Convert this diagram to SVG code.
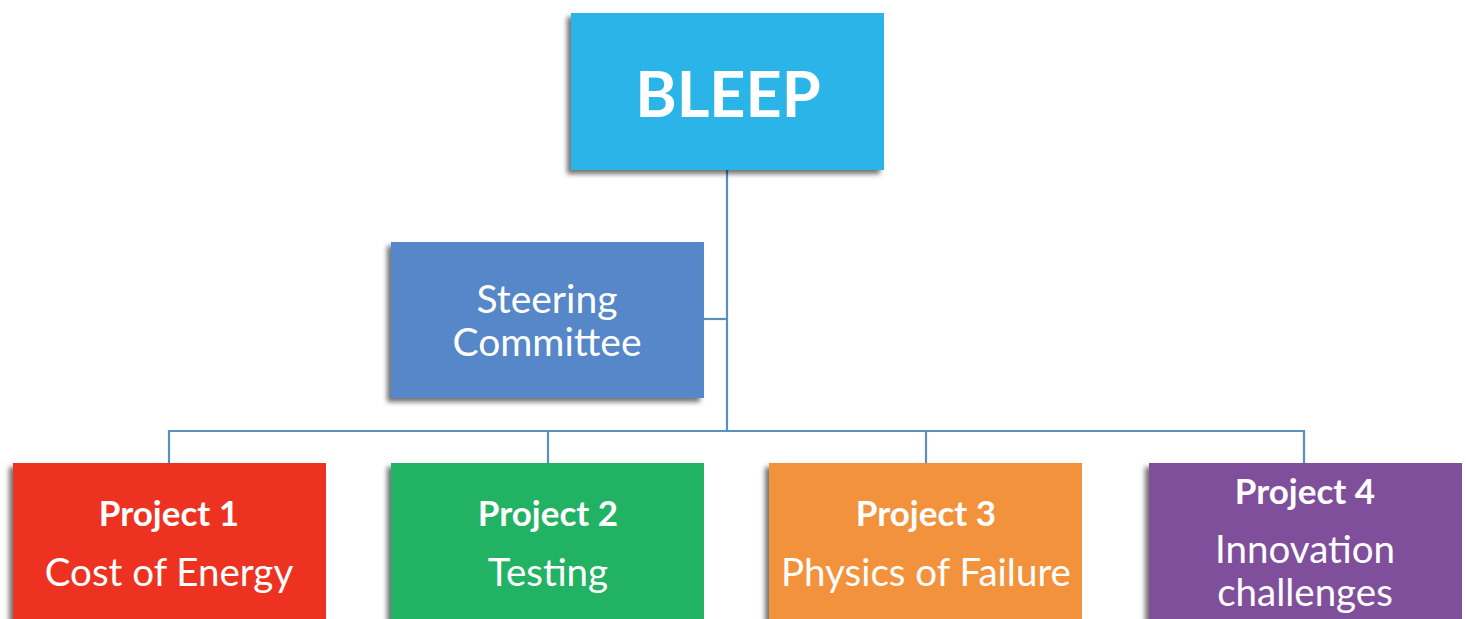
<svg xmlns="http://www.w3.org/2000/svg" width="1466" height="619" viewBox="0 0 1466 619">
  <defs>
    <filter id="shadow" x="-10%" y="-10%" width="120%" height="130%">
      <feGaussianBlur in="SourceAlpha" stdDeviation="2.5"/>
      <feOffset dx="-4" dy="4" result="b"/>
      <feComponentTransfer><feFuncA type="linear" slope="0.55"/></feComponentTransfer>
      <feMerge><feMergeNode/><feMergeNode in="SourceGraphic"/></feMerge>
    </filter>
  </defs>
  <style>
    .box { filter: url(#shadow); }
    .t { font-family: Lato, "Open Sans", sans-serif; fill: #ffffff; text-anchor: middle; }
    .title { font-size: 63px; font-weight: bold; }
    .mid { font-size: 39px; }
    .head { font-size: 35px; font-weight: bold; }
    .sub { font-size: 38.5px; }
    .link { fill: none; stroke: #5b8fbf; stroke-width: 2.2; }
  </style>
  <rect width="1466" height="619" fill="#ffffff"/>

  <g id="connectors">
    <path class="link" d="M727 170 V431"/>
    <path class="link" d="M704 319 H727"/>
    <path class="link" d="M169 463 V431 H1304 V463"/>
    <path class="link" d="M548 431 V463"/>
    <path class="link" d="M926 431 V463"/>
  </g>

  <g id="bleep">
    <rect class="box" x="571" y="13" width="313" height="157" fill="#29b4e8"/>
    <text class="t title" x="728" y="117">BLEEP</text>
  </g>

  <g id="steering">
    <rect class="box" x="391" y="242" width="313" height="156" fill="#5787c8"/>
    <text class="t mid" x="547" y="313">Steering</text>
    <text class="t mid" x="547" y="356">Committee</text>
  </g>

  <g id="project1">
    <rect class="box" x="13" y="463" width="313" height="170" fill="#ee3124"/>
    <text class="t head" x="169" y="526">Project 1</text>
    <text class="t sub" x="169" y="586">Cost of Energy</text>
  </g>

  <g id="project2">
    <rect class="box" x="391" y="463" width="313" height="170" fill="#24b263"/>
    <text class="t head" x="548" y="526">Project 2</text>
    <text class="t sub" x="548" y="586">Testing</text>
  </g>

  <g id="project3">
    <rect class="box" x="769" y="463" width="313" height="170" fill="#f3923d"/>
    <text class="t head" x="926" y="526">Project 3</text>
    <text class="t sub" x="926" y="586">Physics of Failure</text>
  </g>

  <g id="project4">
    <rect class="box" x="1149" y="463" width="313" height="170" fill="#7f4f9c"/>
    <text class="t head" x="1305" y="504">Project 4</text>
    <text class="t sub" x="1305" y="563">Innovation</text>
    <text class="t sub" x="1305" y="606">challenges</text>
  </g>
</svg>
